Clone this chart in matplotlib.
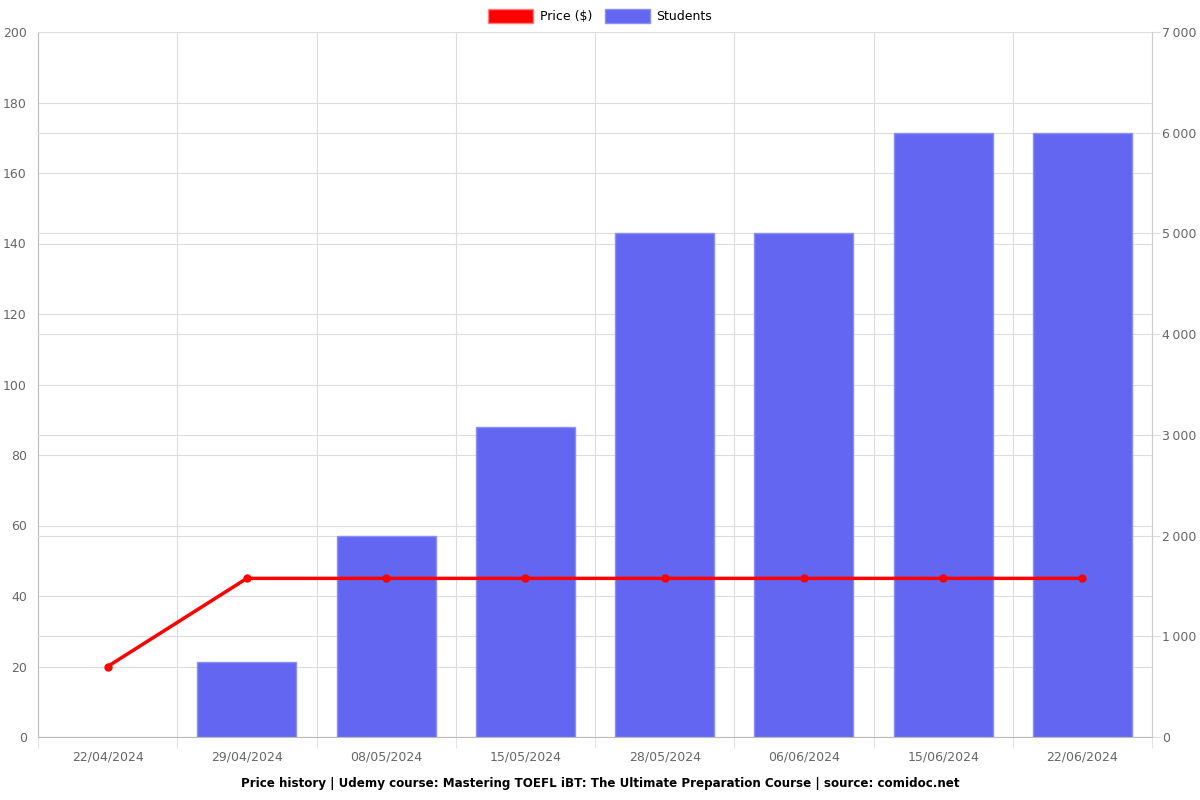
import numpy as np
import matplotlib.pyplot as plt
from matplotlib.patches import Patch

dates = ['22/04/2024', '29/04/2024', '08/05/2024', '15/05/2024',
         '28/05/2024', '06/06/2024', '15/06/2024', '22/06/2024']
price = [20, 45, 45, 45, 45, 45, 45, 45]
students = [0, 740, 2000, 3080, 5000, 5000, 6000, 6000]

grid_c = '#dddddd'
txt_c = '#666666'
fs = 9

fig = plt.figure(figsize=(12, 8), dpi=100)
# bottom axes: price scale + its grid
ax = fig.add_axes([38 / 1200, 1 - 737 / 800, (1152 - 38) / 1200, (737 - 32) / 800])
# bars on students scale
ax2 = ax.twinx()
# line on top, price scale
ax3 = ax.twinx()

x = np.arange(len(dates))
edges = ['#8b8ff5' if v > 0 else 'none' for v in students]
ax2.bar(x, students, width=0.71, color='#6366f1', edgecolor=edges, linewidth=1, zorder=2)
ax3.plot(x, price, color='#ff0000', linewidth=2.5, marker='o', markersize=5, zorder=5)

ax.set_xlim(-0.5, len(dates) - 0.5)
ax.set_ylim(0, 200)
ax3.set_ylim(0, 200)
ax2.set_ylim(0, 7000)
ax.set_yticks(range(0, 201, 20))
ax2.set_yticks(range(0, 7001, 1000))
ax2.set_yticklabels([f'{v:,}'.replace(',', '\u2009') for v in range(0, 7001, 1000)])
ax3.set_yticks([])

ax.set_xticks(x)
ax.set_xticklabels(dates)
ax.set_xticks(np.arange(-0.5, len(dates)), minor=True)
ax.tick_params(axis='x', which='major', length=0, pad=10, labelsize=fs, labelcolor=txt_c)
ax.tick_params(axis='x', which='minor', length=8, color=grid_c)
ax.tick_params(axis='y', length=0, pad=8, labelsize=fs, labelcolor=txt_c)
ax2.tick_params(axis='y', length=6, color=grid_c, pad=1, labelsize=fs, labelcolor=txt_c)

for a in (ax, ax2, ax3):
    for s in a.spines.values():
        s.set_visible(False)
ax.spines['left'].set_visible(True)
ax.spines['left'].set_color('#bbbbbb')
ax.spines['bottom'].set_visible(True)
ax.spines['bottom'].set_color('#bbbbbb')
ax2.spines['right'].set_visible(True)
ax2.spines['right'].set_color('#cccccc')

ax.grid(True, axis='y', color=grid_c, linewidth=0.8)
ax.grid(True, axis='x', which='minor', color=grid_c, linewidth=0.8)
ax2.set_axisbelow(True)
ax2.grid(True, axis='y', color=grid_c, linewidth=0.8)

handles = [Patch(facecolor='#ff0000', edgecolor='#ff8080'),
           Patch(facecolor='#6366f1', edgecolor='#8b8ff5')]
fig.legend(handles, ['Price ($)', 'Students'], loc='center', bbox_to_anchor=(0.5, 1 - 16 / 800),
           ncol=2, frameon=False, fontsize=fs, handlelength=3.6, handleheight=1.3,
           columnspacing=1.0, handletextpad=0.5)

fig.text(0.5, 1 - 783 / 800,
         'Price history | Udemy course: Mastering TOEFL iBT: The Ultimate Preparation Course | source: comidoc.net',
         ha='center', va='center', fontsize=8.6, fontweight='bold')

fig.savefig('out.png', dpi=100)
